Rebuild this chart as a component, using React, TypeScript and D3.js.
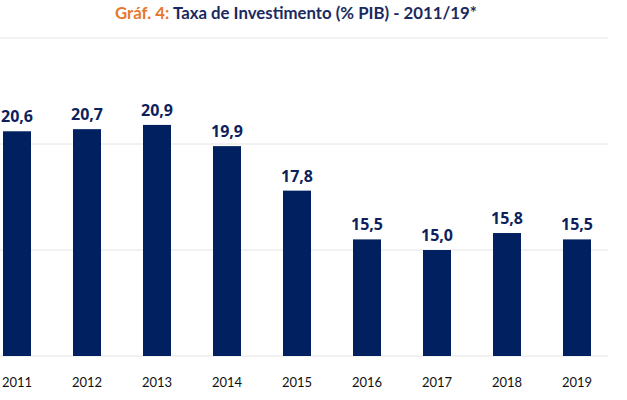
import React from "react";
import * as d3 from "d3";

const years = ["2011", "2012", "2013", "2014", "2015", "2016", "2017", "2018", "2019"];
const values = [20.6, 20.7, 20.9, 19.9, 17.8, 15.5, 15.0, 15.8, 15.5];
const gridTicks = [10, 15, 20, 25];
const valueLabels = ["20,6", "20,7", "20,9", "19,9", "17,8", "15,5", "15,0", "15,8", "15,5"];

const W = 627;
const H = 400;
const NAVY = "#012060";

export default function App() {
  const x = d3.scaleBand<string>().domain(years).range([-18, 612]).paddingInner(0.6).paddingOuter(0.3);
  const y = d3.scaleLinear().domain([10, 25]).range([356, 38]);

  return (
    <svg width={W} height={H} style={{ position: "absolute", left: 0, top: 0, background: "#fff" }}>
      <text x={296} y={19} textAnchor="middle" fontFamily="Lato" fontWeight="bold" fontSize={16.8}>
        <tspan fill="#E8772E">Gráf. 4: </tspan>
        <tspan fill="#1B2A5E">Taxa de Investimento (% PIB) - 2011/19*</tspan>
      </text>
      {gridTicks.map((t) => (
        <line key={t} x1={0} x2={608} y1={y(t)} y2={y(t)} stroke="#e4e4e4" strokeWidth={1} />
      ))}
      {years.map((yr, i) => (
        <g key={yr}>
          <rect x={x(yr)!} y={y(values[i])} width={x.bandwidth()} height={y(10) - y(values[i])} fill={NAVY} />
          <text
            x={x(yr)! + x.bandwidth() / 2}
            y={y(values[i]) - 9}
            textAnchor="middle"
            fontFamily="Open Sans"
            fontWeight="bold"
            fontSize={16}
            fill="#0D1F5C"
          >
            {valueLabels[i]}
          </text>
          <text
            x={x(yr)! + x.bandwidth() / 2}
            y={387}
            textAnchor="middle"
            fontFamily="Lato"
            fontSize={13}
            fill="#111"
          >
            {yr}
          </text>
        </g>
      ))}
    </svg>
  );
}
